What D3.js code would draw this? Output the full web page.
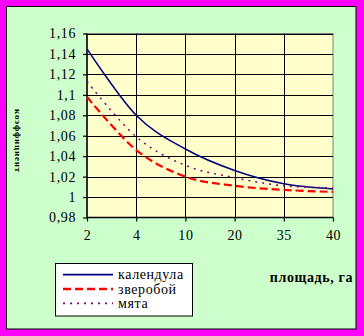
<!DOCTYPE html>
<html><head><meta charset="utf-8">
<script src="https://cdn.jsdelivr.net/npm/d3@7"></script>
<style>body{margin:0;background:#FF00FF;}svg{display:block;}</style>
</head><body>
<svg id="c" width="364" height="336" font-family="Liberation Serif"></svg>
<script>
const categories = ["2","4","10","20","35","40"];
const calendula = [1.145, 1.080, 1.047, 1.026, 1.013, 1.008];
const zveroboy  = [1.098, 1.046, 1.020, 1.011, 1.007, 1.005];
const myata     = [1.113, 1.059, 1.031, 1.019, 1.011, 1.009];
const yTicks = [0.98,1,1.02,1.04,1.06,1.08,1.1,1.12,1.14,1.16];
const seriesNames = ["календула","зверобой","мята"];

const FF = "Liberation Serif";
const svg = d3.select("#c");
svg.append("rect").attr("x",0).attr("y",0).attr("width",364).attr("height",336).attr("fill","#FF00FF");
svg.append("rect").attr("x",6.5).attr("y",6.5).attr("width",349.5).attr("height",322.5)
  .attr("fill","#CCFFCC").attr("stroke","#000").attr("stroke-width",1);

const L=87, R=333, T=33.5, B=217.5;
const x = d3.scalePoint().domain(categories).range([L,R]);
const y = d3.scaleLinear().domain([0.98,1.16]).range([B,T]);

svg.append("rect").attr("x",L).attr("y",T).attr("width",R-L).attr("height",B-T)
  .attr("fill","#FFFFCC").attr("stroke","#808080").attr("stroke-width",1);

// grid
const g = svg.append("g");
g.selectAll("line.h").data(yTicks.slice(1)).join("line")
  .attr("x1",L).attr("x2",R).attr("y1",d=>Math.round(y(d))+0.5).attr("y2",d=>Math.round(y(d))+0.5)
  .attr("stroke","#000").attr("stroke-width",1);
g.selectAll("line.v").data(categories.slice(1,-1)).join("line")
  .attr("y1",T).attr("y2",B).attr("x1",d=>Math.round(x(d))+0.5).attr("x2",d=>Math.round(x(d))+0.5)
  .attr("stroke","#000").attr("stroke-width",1);

// axes
const yAxis = d3.axisLeft(y).tickValues(yTicks).tickSize(4).tickPadding(7)
  .tickFormat(d=>d3.format(".2~f")(d).replace(".",","));
const ya = svg.append("g").attr("transform",`translate(${L},0)`).call(yAxis);
const xAxis = d3.axisBottom(x).tickSize(4).tickPadding(9);
const xa = svg.append("g").attr("transform",`translate(0,${B})`).call(xAxis);
[ya,xa].forEach(a=>{
  a.attr("font-family",FF).attr("font-size",14);
  a.select(".domain").attr("stroke","#000").attr("stroke-width",1.5);
  a.selectAll(".tick line").attr("stroke","#000").attr("stroke-width",1.2);
  a.selectAll("text").attr("font-family",FF).attr("font-size",14).attr("fill","#000")
    .attr("letter-spacing","0.6");
});
ya.select(".domain").attr("d",`M0,${T}V${B}`);
xa.select(".domain").attr("d",`M${L},0H${R}`);

// lines
const line = d3.line().x((d,i)=>x(categories[i])).y(d=>y(d)).curve(d3.curveCardinal.tension(0));
const styles = [
  {data:calendula, color:"#000080", w:1.5, dash:null},
  {data:zveroboy, color:"#FF0000", w:2.2, dash:"8,4"},
  {data:myata, color:"#800080", w:1.5, dash:"2,5"}
];
styles.forEach(s=>{
  svg.append("path").attr("d",line(s.data)).attr("fill","none")
    .attr("stroke",s.color).attr("stroke-width",s.w).attr("stroke-dasharray",s.dash);
});

// legend
svg.append("rect").attr("x",55.5).attr("y",263.5).attr("width",137).attr("height",52.5)
  .attr("fill","#fff").attr("stroke","#000").attr("stroke-width",1);
const ly = [274.7,289,303.3];
styles.forEach((s,i)=>{
  svg.append("line").attr("x1",63).attr("x2",113).attr("y1",ly[i]).attr("y2",ly[i])
    .attr("stroke",s.color).attr("stroke-width",s.w+0.3).attr("stroke-dasharray",s.dash);
  svg.append("text").attr("x",118).attr("y",ly[i]+4.5).text(seriesNames[i])
    .attr("font-family",FF).attr("font-size",14).attr("letter-spacing","0.6").attr("fill","#000");
});

// axis titles
svg.append("text").attr("x",353).attr("y",282).attr("text-anchor","end").text("площадь, га")
  .attr("font-family",FF).attr("font-size",14).attr("font-weight","bold")
  .attr("letter-spacing","0.6").attr("fill","#000");
svg.append("text").attr("transform","translate(15,141) rotate(90)").attr("text-anchor","middle")
  .text("коэффициент").attr("font-family",FF).attr("font-size",9).attr("font-weight","bold")
  .attr("letter-spacing","0.8").attr("fill","#000");
</script>
</body></html>
